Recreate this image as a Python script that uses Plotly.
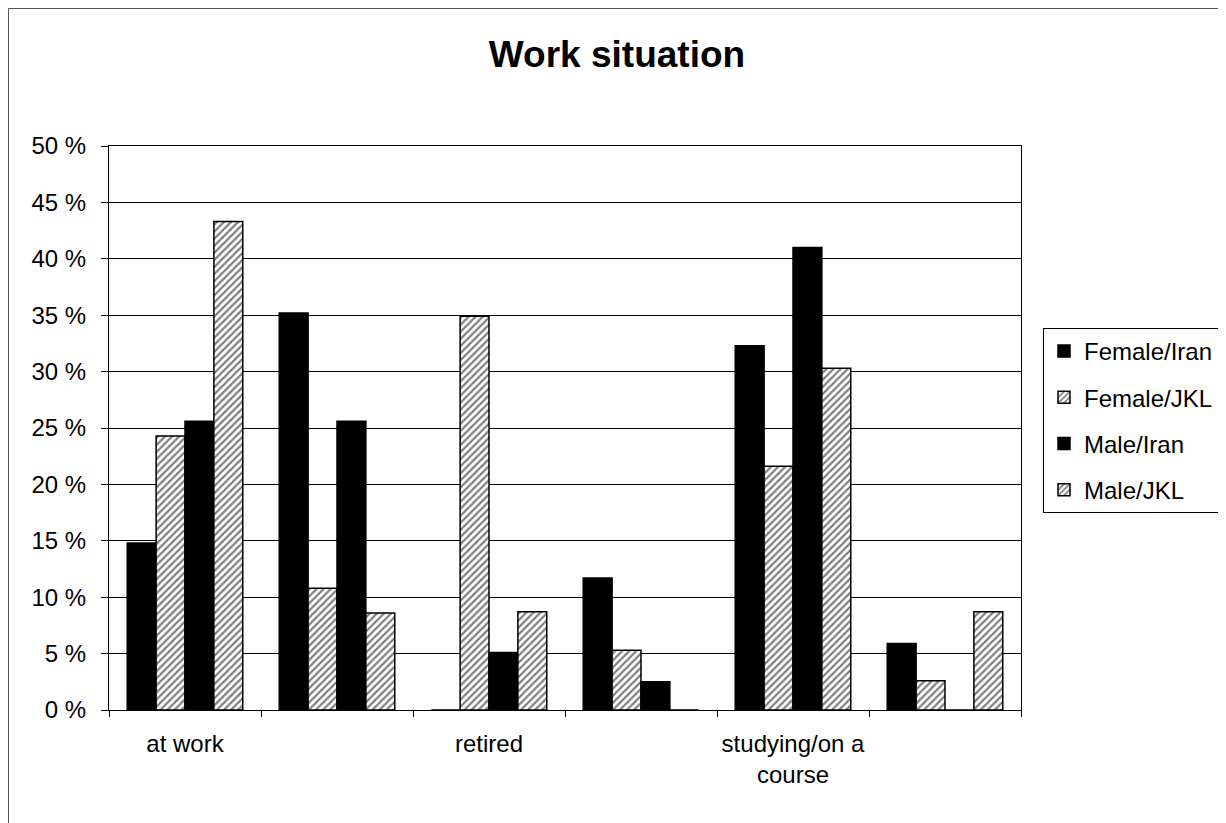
import plotly.graph_objects as go

categories = ["at work", "cat2", "retired", "cat4", "studying/on a course", "cat6"]
tick_labels = ["at work", "", "retired", "", "studying/on a<br>course", ""]

series_names = ["Female/Iran", "Female/JKL", "Male/Iran", "Male/JKL"]
female_iran = [14.8, 35.2, 0.0, 11.7, 32.3, 5.9]
female_jkl = [24.3, 10.8, 34.9, 5.3, 21.6, 2.6]
male_iran = [25.6, 25.6, 5.1, 2.5, 41.0, 0.0]
male_jkl = [43.3, 8.6, 8.7, 0.0, 30.3, 8.7]
series_values = [female_iran, female_jkl, male_iran, male_jkl]
hatched = [False, True, False, True]

y_ticks = [0, 5, 10, 15, 20, 25, 30, 35, 40, 45, 50]
y_tick_labels = [f"{v} %" for v in y_ticks]

FONT = "Liberation Sans, Arial, sans-serif"

fig = go.Figure()
for name, vals, h in zip(series_names, series_values, hatched):
    if h:
        marker = dict(color="white",
                      pattern=dict(shape="/", fgcolor="black", bgcolor="white",
                                   size=5, solidity=0.45),
                      line=dict(color="black", width=1.5))
    else:
        marker = dict(color="black", line=dict(color="black", width=1.5))
    fig.add_trace(go.Bar(x=categories, y=vals, name=name, legendgroup=name,
                         marker=marker))

# page body has an 8px margin, so target pixels are shifted by 8
OFF = 8
W, H = 1226 - OFF, 823 - OFF
L, T = 109 - OFF, 146 - OFF
R = W - (1021 - OFF)
B = H - (710 - OFF)
pw, ph = W - L - R, H - T - B

def px_x(p):
    return (p - OFF - L) / pw

def px_y(p):
    return (H - B - (p - OFF)) / ph

fig.update_layout(
    width=W, height=H,
    margin=dict(l=L, r=R, t=T, b=B, autoexpand=False),
    paper_bgcolor="white", plot_bgcolor="white",
    font=dict(family=FONT, size=24, color="black"),
    barmode="group", bargap=0.24, bargroupgap=0,
    title=dict(text="<b>Work situation</b>", x=0.5, xref="container",
               xanchor="center", y=1 - (54 - OFF) / H, yref="container",
               yanchor="middle", font=dict(size=37, family=FONT, color="black")),
    legend=dict(x=px_x(1043), xanchor="left", y=px_y(513), yanchor="bottom",
                bordercolor="black", borderwidth=1, bgcolor="white",
                font=dict(size=24, family=FONT, color="black"),
                tracegroupgap=12, itemwidth=30),
    xaxis=dict(type="category", tickmode="array", tickvals=categories,
               ticktext=tick_labels, tickson="boundaries", ticks="outside",
               ticklen=6, tickcolor="black", showline=True, linecolor="black",
               linewidth=1, mirror=True, showgrid=False, tickangle=0,
               automargin=False, ticklabelstandoff=12,
               tickfont=dict(size=24, family=FONT, color="black")),
    yaxis=dict(range=[0, 50], tickmode="array", tickvals=y_ticks,
               ticktext=y_tick_labels, ticks="outside", ticklen=7,
               tickcolor="black", showline=True, linecolor="black",
               linewidth=1, mirror=True, showgrid=True, gridcolor="black",
               gridwidth=1, zeroline=False, ticklabelstandoff=10,
               automargin=False,
               tickfont=dict(size=24, family=FONT, color="black")),
    shapes=[
        dict(type="line", xref="paper", yref="paper",
             x0=px_x(OFF + 0.5), x1=px_x(1226), y0=px_y(OFF + 0.5), y1=px_y(OFF + 0.5),
             line=dict(color="#555555", width=1)),
        dict(type="line", xref="paper", yref="paper",
             x0=px_x(OFF + 0.5), x1=px_x(OFF + 0.5), y0=px_y(OFF + 0.5), y1=px_y(823),
             line=dict(color="#555555", width=1)),
    ],
)

fig.write_html("out.html")
